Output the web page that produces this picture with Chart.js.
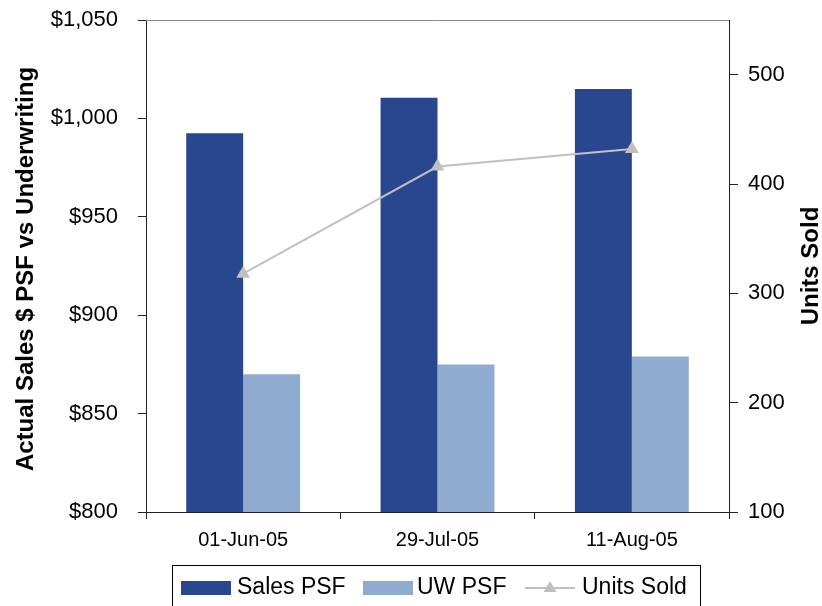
<!DOCTYPE html>
<html>
<head>
<meta charset="utf-8">
<title>Sales PSF vs Underwriting</title>
<script src="https://cdn.jsdelivr.net/npm/chart.js@4.4.1/dist/chart.umd.min.js"></script>
<style>
  html, body { margin: 0; padding: 0; background: #fff; }
  #wrap { width: 822px; height: 606px; position: relative; }
</style>
</head>
<body>
<div id="wrap"><canvas id="chart" width="822" height="606"></canvas></div>
<script>
// Closing dates
const categories = ['01-Jun-05', '29-Jul-05', '11-Aug-05'];
// Actual sales price per square foot
const salesPsf = [992.5, 1010.5, 1015];
// Underwriting price per square foot
const uwPsf = [870, 875, 879];
// Cumulative units sold
const unitsSold = [318, 416, 432];
// Axis tick values
const psfTicks = [800, 850, 900, 950, 1000, 1050];
const unitTicks = [100, 200, 300, 400, 500];

const seriesNames = ['Sales PSF', 'UW PSF', 'Units Sold'];
const leftTitle = 'Actual Sales $ PSF vs Underwriting';
const rightTitle = 'Units Sold';

const FONT = "'Liberation Sans', Arial, Helvetica, sans-serif";
const NAVY = '#28478f';
const LIGHT = '#8fabcf';
const GREY = '#c0c0c0';

// Axis titles, plot frame and legend
const decorations = {
  id: 'decorations',
  afterDraw(chart) {
    const ctx = chart.ctx;
    const a = chart.chartArea;
    ctx.save();

    // top frame line
    ctx.strokeStyle = '#8a8a8a';
    ctx.lineWidth = 1;
    ctx.beginPath();
    ctx.moveTo(a.left, Math.round(a.top) + 0.5);
    ctx.lineTo(a.right, Math.round(a.top) + 0.5);
    ctx.stroke();

    // axis titles (both read bottom-to-top)
    ctx.fillStyle = '#000';
    ctx.font = 'bold 24px ' + FONT;
    ctx.textAlign = 'center';
    ctx.textBaseline = 'alphabetic';
    const midY = (a.top + a.bottom) / 2;
    ctx.save();
    ctx.translate(33, midY + 3);
    ctx.rotate(-Math.PI / 2);
    ctx.fillText(leftTitle, 0, 0);
    ctx.restore();
    ctx.save();
    ctx.translate(818, midY);
    ctx.rotate(-Math.PI / 2);
    ctx.fillText(rightTitle, 0, 0);
    ctx.restore();

    // legend
    const lx = 172.5, ly = 565.5, lw = 528, lh = 60;
    ctx.strokeStyle = '#000';
    ctx.lineWidth = 1;
    ctx.strokeRect(lx, ly, lw, lh);
    const cy = 588;
    ctx.font = '23px ' + FONT;
    ctx.textAlign = 'left';
    ctx.textBaseline = 'alphabetic';
    const ds = chart.data.datasets;

    ctx.fillStyle = ds[0].backgroundColor;
    ctx.fillRect(181, 581, 50, 14);
    ctx.fillStyle = '#000';
    ctx.fillText(ds[0].label, 237, 594);

    ctx.fillStyle = ds[1].backgroundColor;
    ctx.fillRect(363, 581, 50, 14);
    ctx.fillStyle = '#000';
    ctx.fillText(ds[1].label, 417, 594);

    ctx.strokeStyle = ds[2].borderColor;
    ctx.lineWidth = 2;
    ctx.beginPath();
    ctx.moveTo(525, cy);
    ctx.lineTo(575, cy);
    ctx.stroke();
    ctx.fillStyle = ds[2].pointBackgroundColor;
    ctx.beginPath();
    ctx.moveTo(550, cy - 7);
    ctx.lineTo(556.5, cy + 4);
    ctx.lineTo(543.5, cy + 4);
    ctx.closePath();
    ctx.fill();
    ctx.fillStyle = '#000';
    ctx.fillText(ds[2].label, 582, 594);

    ctx.restore();
  }
};

new Chart(document.getElementById('chart'), {
  type: 'bar',
  data: {
    labels: categories,
    datasets: [
      {
        label: seriesNames[0],
        data: salesPsf,
        backgroundColor: NAVY,
        yAxisID: 'y',
        order: 1,
        categoryPercentage: 0.586,
        barPercentage: 1.0
      },
      {
        label: seriesNames[1],
        data: uwPsf,
        backgroundColor: LIGHT,
        yAxisID: 'y',
        order: 1,
        categoryPercentage: 0.586,
        barPercentage: 1.0
      },
      {
        type: 'line',
        label: seriesNames[2],
        data: unitsSold,
        yAxisID: 'y1',
        order: 0,
        borderColor: GREY,
        borderWidth: 2,
        pointStyle: 'triangle',
        pointRadius: 8,
        pointBackgroundColor: GREY,
        pointBorderColor: GREY,
        pointBorderWidth: 0,
        tension: 0
      }
    ]
  },
  options: {
    responsive: false,
    animation: false,
    events: [],
    layout: { padding: { top: 20, left: 0, right: 0, bottom: 0 } },
    plugins: {
      legend: { display: false },
      tooltip: { enabled: false },
      title: { display: false }
    },
    scales: {
      x: {
        type: 'category',
        offset: true,
        grid: {
          display: true,
          offset: true,
          drawOnChartArea: false,
          drawTicks: true,
          tickLength: 7,
          color: '#222'
        },
        border: { display: true, color: '#222', width: 1 },
        ticks: {
          color: '#000',
          font: { family: FONT, size: 20 },
          padding: 9,
          maxRotation: 0
        },
        afterFit(scale) {
          scale.height = 94;
          scale.paddingLeft = 0;
          scale.paddingRight = 0;
        }
      },
      y: {
        type: 'linear',
        position: 'left',
        min: psfTicks[0],
        max: psfTicks[psfTicks.length - 1],
        afterBuildTicks(scale) { scale.ticks = psfTicks.map(v => ({ value: v })); },
        grid: {
          display: true,
          drawOnChartArea: false,
          drawTicks: true,
          tickLength: 8,
          color: '#222'
        },
        border: { display: true, color: '#222', width: 1 },
        ticks: {
          color: '#000',
          font: { family: FONT, size: 22 },
          padding: 20,
          callback: v => '$' + Number(v).toLocaleString('en-US')
        },
        afterFit(scale) {
          scale.width = 146;
          scale.paddingTop = 0;
          scale.paddingBottom = 0;
        }
      },
      y1: {
        type: 'linear',
        position: 'right',
        min: 100,
        max: 550,
        afterBuildTicks(scale) { scale.ticks = unitTicks.map(v => ({ value: v })); },
        grid: {
          display: true,
          drawOnChartArea: false,
          drawTicks: true,
          tickLength: 9,
          color: '#222'
        },
        border: { display: true, color: '#222', width: 1 },
        ticks: {
          color: '#000',
          font: { family: FONT, size: 22 },
          padding: 10
        },
        afterFit(scale) {
          scale.width = 93;
          scale.paddingTop = 0;
          scale.paddingBottom = 0;
        }
      }
    }
  },
  plugins: [decorations]
});
</script>
</body>
</html>
